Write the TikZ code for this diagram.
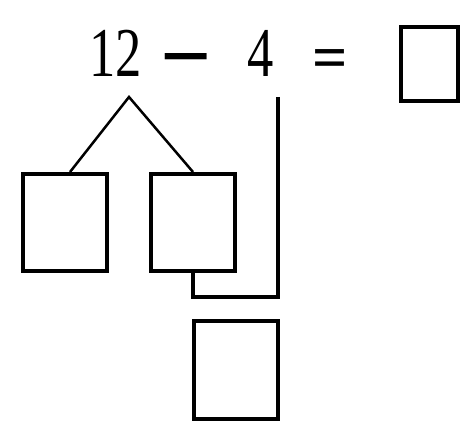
\documentclass[tikz,border=0pt]{standalone}
\usepackage{fontspec}
\usepackage{graphicx}
\setmainfont{Liberation Serif}
\begin{document}
\begin{tikzpicture}[x=1pt, y=1pt,
	box/.style={draw, line width=4pt, minimum width=84pt, minimum height=97pt, inner sep=0pt},
	digit/.style={font=\fontsize{70}{70}\selectfont, anchor=base, inner sep=0pt},
	sign/.style={font=\fontsize{62}{62}\selectfont\bfseries, anchor=base, inner sep=0pt}]
	\useasboundingbox (0, 0) rectangle (462, 422);

	\node[digit] (twelve) at (115.5, 345) {\scalebox{0.75}[1]{12}};
	\node[sign, font=\fontsize{90}{90}\selectfont\bfseries] (minus) at (186, 335) {−};
	\node[digit] (four) at (261, 345) {\scalebox{0.75}[1]{4}};
	\node[sign] (equals) at (330.5, 343) {=};
	\node[box, minimum width=57pt, minimum height=74pt] (answer) at (429.5, 358) {};

	\node[box] (left) at (65, 199.5) {};
	\node[box] (middle) at (193, 199.5) {};
	\node[box] (bottom) at (236, 52) {};

	\coordinate (apex) at (129, 325);
	\coordinate (start) at (278, 325);
	\coordinate (join) at (278, 125);

	\draw[line width=2.5pt] ([xshift=5pt]left.north) -- (apex) -- (middle.north);
	\draw[line width=4pt] (start) -- (join) -| (middle.south);
\end{tikzpicture}
\end{document}
